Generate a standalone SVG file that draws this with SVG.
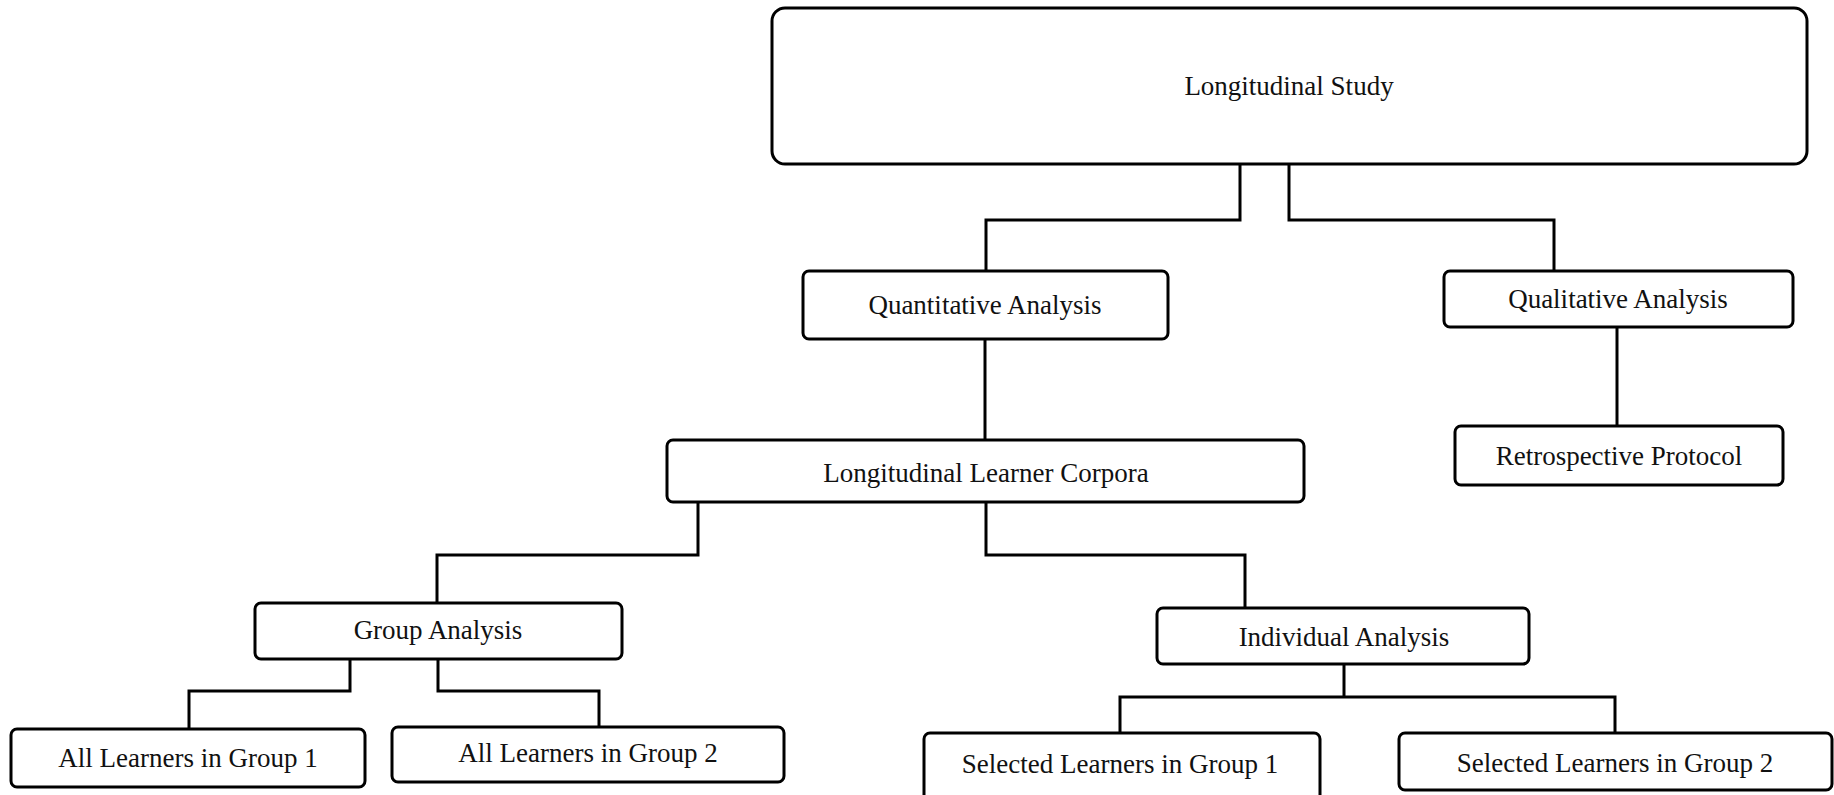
<svg xmlns="http://www.w3.org/2000/svg" width="1834" height="795" viewBox="0 0 1834 795">
<style>
.box{fill:#fff;stroke:#000;stroke-width:3}
.lbl{font-family:"Liberation Serif","Times New Roman",serif;font-size:27px;fill:#111;text-anchor:middle}
.con{fill:none;stroke:#000;stroke-width:3;stroke-linejoin:miter}
</style>
<rect width="1834" height="795" fill="#fff"/>
<g id="connectors">
<path class="con" d="M1240,164 V220 H986 V271"/>
<path class="con" d="M1289,164 V220 H1554 V271"/>
<path class="con" d="M1617,327 V426"/>
<path class="con" d="M985,339 V440"/>
<path class="con" d="M698,502 V555 H437 V603"/>
<path class="con" d="M986,502 V555 H1245 V608"/>
<path class="con" d="M350,659 V691 H189 V729"/>
<path class="con" d="M438,659 V691 H599 V727"/>
<path class="con" d="M1344,664 V697"/>
<path class="con" d="M1120,733 V697 H1615 V733"/>
</g>
<g id="n-longitudinal-study"><rect class="box" x="772" y="8" width="1035" height="156" rx="13"/><text class="lbl" x="1289" y="95">Longitudinal Study</text></g>
<g id="n-quantitative"><rect class="box" x="803" y="271" width="365" height="68" rx="6"/><text class="lbl" x="985" y="314">Quantitative Analysis</text></g>
<g id="n-qualitative"><rect class="box" x="1444" y="271" width="349" height="56" rx="6"/><text class="lbl" x="1618" y="308">Qualitative Analysis</text></g>
<g id="n-retrospective"><rect class="box" x="1455" y="426" width="328" height="59" rx="6"/><text class="lbl" x="1619" y="465">Retrospective Protocol</text></g>
<g id="n-corpora"><rect class="box" x="667" y="440" width="637" height="62" rx="6"/><text class="lbl" x="986" y="482">Longitudinal Learner Corpora</text></g>
<g id="n-group"><rect class="box" x="255" y="603" width="367" height="56" rx="6"/><text class="lbl" x="438" y="639">Group Analysis</text></g>
<g id="n-all1"><rect class="box" x="11" y="729" width="354" height="58" rx="6"/><text class="lbl" x="188" y="767">All Learners in Group 1</text></g>
<g id="n-all2"><rect class="box" x="392" y="727" width="392" height="55" rx="6"/><text class="lbl" x="588" y="762">All Learners in Group 2</text></g>
<g id="n-individual"><rect class="box" x="1157" y="608" width="372" height="56" rx="6"/><text class="lbl" x="1344" y="646">Individual Analysis</text></g>
<g id="n-sel1"><rect class="box" x="924" y="733" width="396" height="70" rx="6"/><text class="lbl" x="1120" y="773">Selected Learners in Group 1</text></g>
<g id="n-sel2"><rect class="box" x="1399" y="733" width="433" height="57" rx="6"/><text class="lbl" x="1615" y="772">Selected Learners in Group 2</text></g>
</svg>
